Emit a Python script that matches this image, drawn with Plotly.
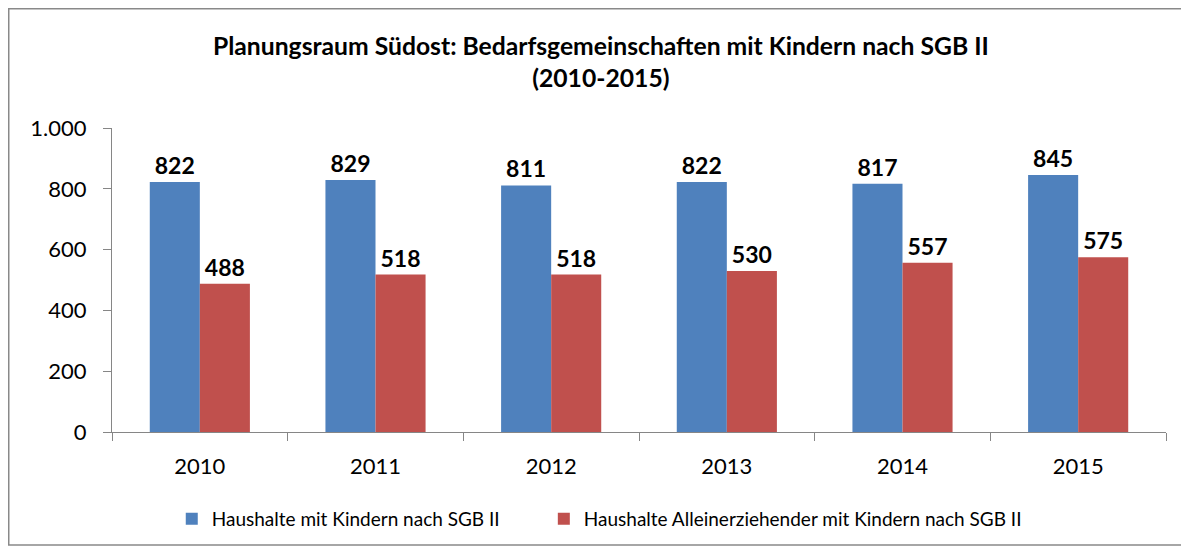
import plotly.graph_objects as go

years = ["2010", "2011", "2012", "2013", "2014", "2015"]
haushalte_kinder = [822, 829, 811, 822, 817, 845]
alleinerziehende = [488, 518, 518, 530, 557, 575]
series_names = ["Haushalte mit Kindern nach SGB II",
                "Haushalte Alleinerziehender mit Kindern nach SGB II"]
colors = ["#4F81BD", "#C0504D"]
legend_ids = ["legend", "legend2"]

FONT = "Lato, 'Open Sans', sans-serif"

fig = go.Figure()
for name, vals, col, lg in zip(series_names, [haushalte_kinder, alleinerziehende], colors, legend_ids):
    fig.add_trace(go.Bar(
        x=years, y=vals, name=name, legend=lg, showlegend=True,
        marker=dict(color=col, line=dict(width=0)),
        text=[str(v) for v in vals], textposition="outside",
        textfont=dict(family=FONT, size=23, color="black", weight="bold"),
        cliponaxis=False,
    ))

W, H = 1181, 542
L, R, T, B = 104, 23, 120, 118
pw, ph = W - L - R, H - T - B

legend_common = dict(
    orientation="h", xanchor="left", y=-0.286, yanchor="middle",
    font=dict(family=FONT, size=19, color="black"), itemwidth=30,
    bgcolor="rgba(0,0,0,0)", visible=True,
)

fig.update_layout(
    width=W, height=H,
    margin=dict(l=L, r=R, t=T, b=B),
    paper_bgcolor="white", plot_bgcolor="white",
    separators=",.",
    showlegend=True,
    barmode="group", bargap=0.43, bargroupgap=0,
    font=dict(family=FONT, color="black"),
    title=dict(
        text="Planungsraum Südost: Bedarfsgemeinschaften mit Kindern nach SGB II<br>(2010-2015)",
        x=0.502, xanchor="center", y=0.913, yanchor="middle",
        font=dict(family=FONT, size=24.7, color="black", weight="bold"),
    ),
    legend=dict(x=0.0567, **legend_common),
    legend2=dict(x=0.4097, **legend_common),
    xaxis=dict(
        type="category", tickson="boundaries", ticks="outside", ticklen=8,
        tickcolor="#868686", showline=True, linecolor="#868686", linewidth=1,
        showgrid=False, ticklabelstandoff=15,
        tickfont=dict(family=FONT, size=22, color="black"),
    ),
    yaxis=dict(
        range=[0, 1000], tickvals=[0, 200, 400, 600, 800, 1000], tickformat=",d",
        ticks="outside", ticklen=8, tickcolor="#868686",
        showline=True, linecolor="#868686", linewidth=1, showgrid=False,
        zeroline=False, ticklabelstandoff=12,
        tickfont=dict(family=FONT, size=22, color="black"),
    ),
    shapes=[dict(
        type="rect", xref="paper", yref="paper",
        x0=(0.75 - L) / pw, x1=(1174 - L) / pw,
        y0=(H - B - 537) / ph, y1=(H - B - 0.75) / ph,
        line=dict(color="#898989", width=1.5), fillcolor="rgba(0,0,0,0)", layer="below",
    )],
)

fig.write_html("out.html")
